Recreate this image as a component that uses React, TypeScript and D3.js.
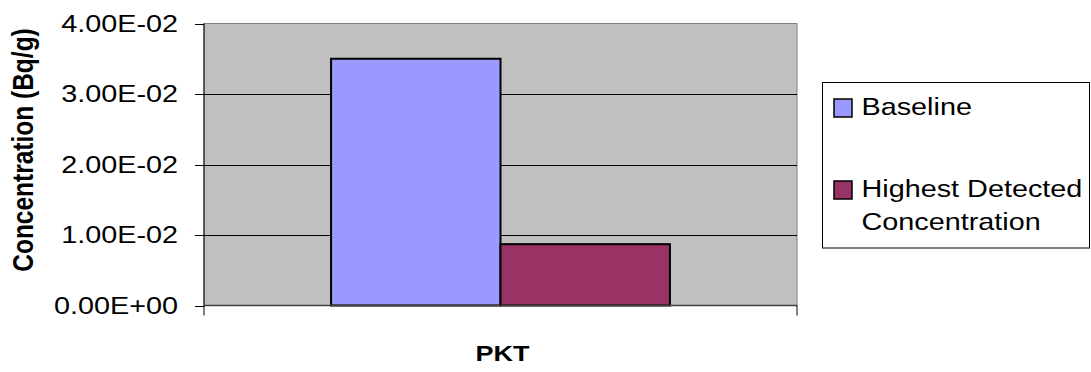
import React from "react";
import * as d3 from "d3";

const categories = ["PKT"];
const seriesNames = ["Baseline", "Highest Detected Concentration"];
const baselineValues = [0.035];
const highestValues = [0.0087];
const yTicks = [0, 0.01, 0.02, 0.03, 0.04];
const seriesColors = ["#9999FF", "#993366"];
const legendLines = [["Baseline"], ["Highest Detected", "Concentration"]];

const W = 1091;
const H = 372;
const SX = 1.2;
const FONT = "'Liberation Sans', Arial, Helvetica, sans-serif";

const plot = { left: 204, right: 797, top: 23.5, bottom: 305.5 };

function fmtExp(v: number): string {
  const s = v.toExponential(2); // e.g. 4.00e-2
  const [m, e] = s.split("e");
  const n = parseInt(e, 10);
  const sign = n < 0 ? "-" : "+";
  const abs = Math.abs(n).toString().padStart(2, "0");
  return `${m}E${sign}${abs}`;
}

function SText(props: {
  x: number;
  y: number;
  anchor?: string;
  size: number;
  bold?: boolean;
  rotate?: number;
  children: React.ReactNode;
}) {
  const { x, y, anchor = "start", size, bold, rotate, children } = props;
  const tf = `translate(${x},${y}) scale(${SX},1)` + (rotate ? ` rotate(${rotate})` : "");
  return (
    <text
      transform={tf}
      textAnchor={anchor}
      fontFamily={FONT}
      fontSize={size}
      fontWeight={bold ? "bold" : "normal"}
      fill="#000"
    >
      {children}
    </text>
  );
}

export default function App() {
  const y = d3.scaleLinear().domain([0, 0.04]).range([plot.bottom, plot.top]);
  const x = d3.scaleBand<string>().domain(categories).range([plot.left, plot.right]).padding(0);
  const band = x.bandwidth();
  const groupW = (band * 2) / 3.5;
  const xs = d3.scaleBand<string>().domain(seriesNames).range([0, groupW]).padding(0);
  const seriesValues = [baselineValues, highestValues];

  return (
    <svg
      width={W}
      height={H}
      style={{ position: "absolute", left: 0, top: 0, background: "#fff" }}
    >
      <rect x={0} y={0} width={W} height={H} fill="#fff" />
      {/* plot area */}
      <rect
        x={plot.left}
        y={plot.top}
        width={plot.right - plot.left}
        height={plot.bottom - plot.top}
        fill="#C0C0C0"
        stroke="#808080"
        strokeWidth={1}
      />
      {/* gridlines */}
      {yTicks.slice(1, -1).map((t) => (
        <line
          key={"g" + t}
          x1={plot.left}
          x2={plot.right}
          y1={Math.round(y(t)) + 0.5}
          y2={Math.round(y(t)) + 0.5}
          stroke="#000"
          strokeWidth={1}
        />
      ))}
      {/* bars */}
      {categories.map((c, ci) =>
        seriesNames.map((s, si) => {
          const v = seriesValues[si][ci];
          const bx = (x(c) as number) + (band - groupW) / 2 + (xs(s) as number);
          return (
            <rect
              key={c + s}
              x={bx}
              y={y(v)}
              width={xs.bandwidth()}
              height={plot.bottom - y(v)}
              fill={seriesColors[si]}
              stroke="#000"
              strokeWidth={2}
            />
          );
        })
      )}
      {/* y axis line */}
      <line x1={plot.left} x2={plot.left} y1={plot.top} y2={plot.bottom} stroke="#000" strokeWidth={1} />
      {/* x axis line */}
      <line x1={plot.left} x2={plot.right} y1={plot.bottom} y2={plot.bottom} stroke="#404040" strokeWidth={1.5} />
      {/* x ticks */}
      {[plot.left, plot.right].map((tx) => (
        <line key={"xt" + tx} x1={tx} x2={tx} y1={plot.bottom} y2={plot.bottom + 10} stroke="#000" strokeWidth={1} />
      ))}
      {/* y ticks & labels */}
      {yTicks.map((t) => (
        <g key={"t" + t}>
          <line
            x1={plot.left - 9}
            x2={plot.left}
            y1={Math.round(y(t)) + 0.5}
            y2={Math.round(y(t)) + 0.5}
            stroke="#000"
            strokeWidth={1}
          />
          <SText x={178} y={y(t) + 8} anchor="end" size={24}>
            {fmtExp(t)}
          </SText>
        </g>
      ))}
      {/* axis titles */}
      <SText x={33} y={150} anchor="middle" size={24.5} bold rotate={-90}>
        Concentration (Bq/g)
      </SText>
      {categories.map((c) => (
        <SText key={"cat" + c} x={(x(c) as number) + band / 2 + 2} y={361} anchor="middle" size={22.5} bold>
          {c}
        </SText>
      ))}
      {/* legend */}
      <rect x={822.5} y={82.5} width={267} height={165.5} fill="#fff" stroke="#000" strokeWidth={1} />
      {seriesNames.map((s, si) => {
        const top = si === 0 ? 99 : 181;
        const base = si === 0 ? 115 : 196.5;
        return (
          <g key={"lg" + s}>
            <rect x={834} y={top} width={18} height={18} fill={seriesColors[si]} stroke="#000" strokeWidth={1.5} />
            {legendLines[si].map((ln, li) => (
              <SText key={ln} x={861.5} y={base + li * 33.5} size={24}>
                {ln}
              </SText>
            ))}
          </g>
        );
      })}
    </svg>
  );
}
